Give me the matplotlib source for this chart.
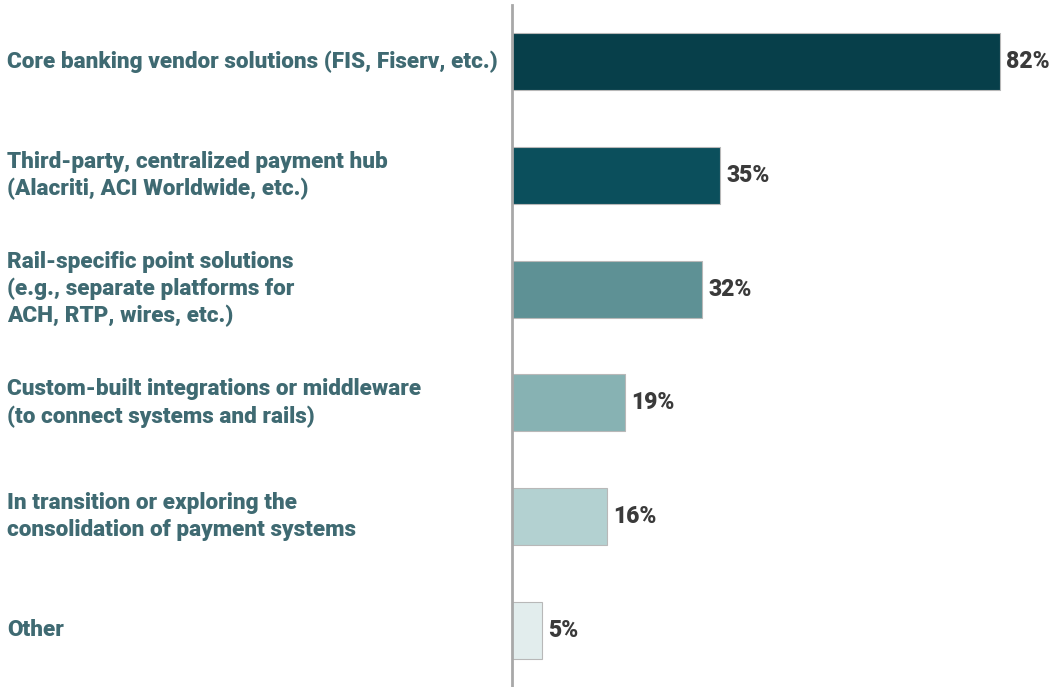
import matplotlib
matplotlib.use("Agg")
import matplotlib.pyplot as plt

categories = [
    "Core banking vendor solutions (FIS, Fiserv, etc.)",
    "Third-party, centralized payment hub\n(Alacriti, ACI Worldwide, etc.)",
    "Rail-specific point solutions\n(e.g., separate platforms for\nACH, RTP, wires, etc.)",
    "Custom-built integrations or middleware\n(to connect systems and rails)",
    "In transition or exploring the\nconsolidation of payment systems",
    "Other",
]
values = [82, 35, 32, 19, 16, 5]
colors = ["#073f4a", "#0b4f5c", "#5e9195", "#87b2b3", "#b3d1d1", "#e2eded"]

fig = plt.figure(figsize=(10.51, 6.87), dpi=100)
W, H = 1051, 687
ax = fig.add_axes([512 / W, 0, (W - 512) / W, (H - 5) / H])

y = list(range(len(values)))
ax.barh(y, values, height=0.5, color=colors, edgecolor="#b8b8b8", linewidth=0.8, zorder=2)
ax.set_xlim(0, (W - 512) / 5.95)
ax.set_ylim(5.5, -0.5)

for yi, v in zip(y, values):
    ax.text(v + 1.0, yi, f"{v}%", va="center", ha="left", fontsize=16.5,
            fontweight=900, color="#3a3a3a", family="Roboto")

for yi, lab in zip(y, categories):
    ax.annotate(lab, xy=(7 / W, 0), xycoords=("figure fraction", "data"),
                xytext=(0, yi), textcoords=("offset points", "data"),
                va="center", ha="left", fontsize=16.2, fontweight=900,
                color="#3f6a72", family="Roboto", linespacing=1.28)

for s in ["top", "right", "bottom"]:
    ax.spines[s].set_visible(False)
ax.spines["left"].set_color("#a8a8a8")
ax.spines["left"].set_linewidth(2)
ax.set_xticks([])
ax.set_yticks([])
ax.patch.set_alpha(0)

fig.savefig("out.png", dpi=100)
